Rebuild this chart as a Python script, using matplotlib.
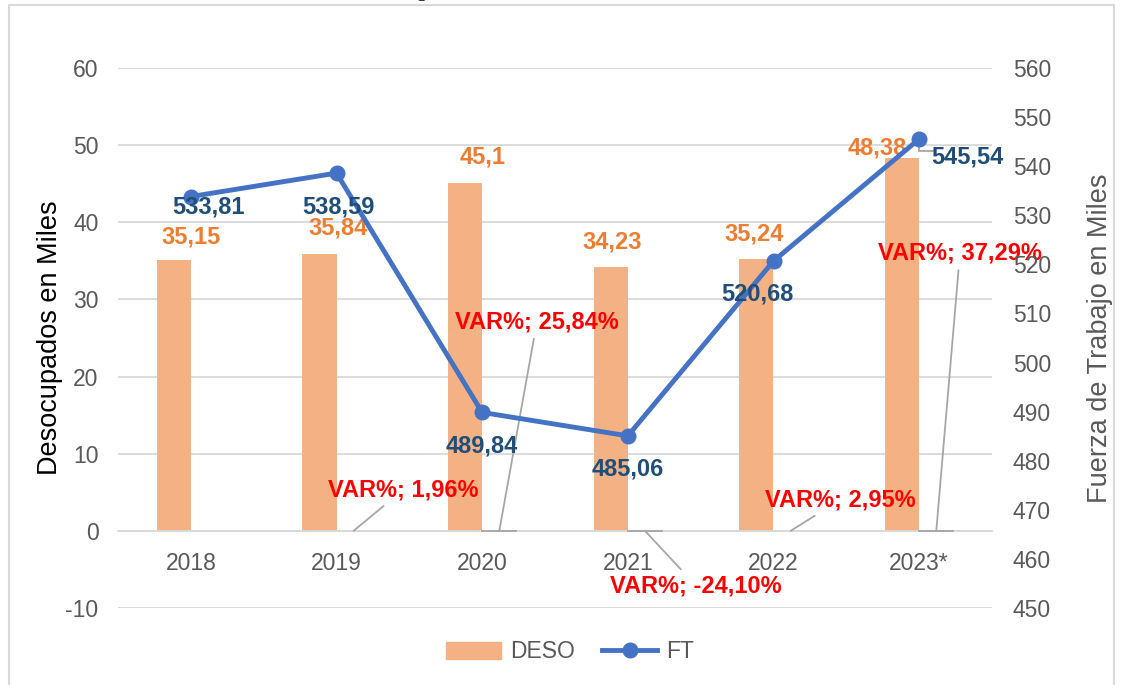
import matplotlib
matplotlib.use("Agg")
import matplotlib.pyplot as plt
import matplotlib.patches as mpatches
from matplotlib.lines import Line2D
import numpy as np

plt.rcParams['font.family'] = ['Liberation Sans', 'DejaVu Sans']
plt.rcParams['axes.unicode_minus'] = False

# Data
years = ["2018", "2019", "2020", "2021", "2022", "2023*"]
deso = [35.15, 35.84, 45.1, 34.23, 35.24, 48.38]
ft = [533.81, 538.59, 489.84, 485.06, 520.68, 545.54]
var_pct = [None, 1.96, 25.84, -24.10, 2.95, 37.29]

# Label placement (data coords of the label centers)
deso_lbl_pos = [(0.0, 38.1), (1.01, 39.3), (2.0, 48.4), (2.89, 37.5), (3.87, 38.5), (4.71, 49.6)]
ft_lbl_pos = [(0.12, 531.7), (1.01, 531.7), (2.0, 483.0), (3.0, 478.3), (3.89, 514.0), (5.33, 541.9)]
var_lbl_pos = [None, (1.456, 5.3), (2.376, 27.1), (3.468, -7.1), (4.456, 4.0), (5.28, 36.0)]
var_elbow = [False, False, True, True, False, True]

ORANGE_BAR = "#F4B183"
ORANGE_TXT = "#ED7D31"
BLUE_LINE = "#4472C4"
BLUE_TXT = "#1F4E79"
GRID = "#D9D9D9"
TXT = "#595959"
LEADER = "#A6A6A6"

fig = plt.figure(figsize=(11.23, 6.85), dpi=100)
ax = fig.add_axes([118 / 1123, 1 - 608 / 685, 874 / 1123, 540 / 685])
ax2 = ax.twinx()

x = np.arange(len(years))
w = 0.235

# Bars (DESO)
ax.bar(x - w, deso, width=w, align='edge', color=ORANGE_BAR, zorder=2)
ax.set_ylim(-10, 60)
ax.set_xlim(-0.5, len(years) - 0.5)
ax.set_yticks(np.arange(-10, 61, 10))
ax.yaxis.grid(True, color=GRID, linewidth=1.3, zorder=0)
ax.set_axisbelow(True)
for s in ['top', 'right', 'left']:
    ax.spines[s].set_visible(False)
ax.spines['bottom'].set_position(('data', 0))
ax.spines['bottom'].set_color(GRID)
ax.spines['bottom'].set_linewidth(1.3)
ax.set_xticks(x)
ax.set_xticklabels(years)
ax.tick_params(axis='x', length=0, pad=15, labelsize=16.5, labelcolor=TXT)
ax.tick_params(axis='y', length=0, pad=14, labelsize=16.5, labelcolor=TXT)
ax.set_ylabel("Desocupados en Miles", fontsize=19.5, color='black', labelpad=2)

# Line (FT)
ax2.plot(x, ft, color=BLUE_LINE, linewidth=3.5, marker='o', markersize=10.5, zorder=5)
ax2.set_ylim(450, 560)
ax2.set_yticks(np.arange(450, 561, 10))
for s in ['top', 'right', 'left', 'bottom']:
    ax2.spines[s].set_visible(False)
ax2.tick_params(axis='y', length=0, pad=15, labelsize=16.5, labelcolor=TXT)
ax2.set_ylabel("Fuerza de Trabajo en Miles", fontsize=19.5, color=TXT, labelpad=26)

# DESO labels
for v, (lx, ly) in zip(deso, deso_lbl_pos):
    ax.text(lx, ly, f"{v:g}".replace('.', ','), ha='center', va='center',
            fontsize=17, fontweight='bold', color=ORANGE_TXT, zorder=6)

# FT labels
for v, (lx, ly) in zip(ft, ft_lbl_pos):
    ax2.text(lx, ly, f"{v:.2f}".replace('.', ','), ha='center', va='center',
             fontsize=17, fontweight='bold', color=BLUE_TXT, zorder=6)
# small leader for last FT label
ax2.plot([x[-1], x[-1], x[-1] + 0.1], [ft[-1], ft[-1] - 2.5, ft[-1] - 2.5],
         color=LEADER, linewidth=1.3, zorder=4)

# VAR% labels with leader lines
for i, v in enumerate(var_pct):
    if v is None:
        continue
    lx, ly = var_lbl_pos[i]
    ax.annotate(f"VAR%; {v:.2f}%".replace('.', ','), xy=(i + w / 2, 0), xytext=(lx, ly),
                ha='center', va='center', fontsize=17, fontweight='bold', color='#FF0000',
                arrowprops=dict(arrowstyle='-', color=LEADER, lw=1.3, shrinkA=2, shrinkB=0),
                zorder=6)
    if var_elbow[i]:
        ax.plot([i, i + w], [0, 0], color=LEADER, linewidth=1.3, zorder=3)

# Legend
handles = [mpatches.Patch(color=ORANGE_BAR, label="DESO"),
           Line2D([0], [0], color=BLUE_LINE, linewidth=3.5, marker='o', markersize=10.5, label="FT")]
fig.legend(handles=handles, loc='center', bbox_to_anchor=(570 / 1123, 1 - 652 / 685), ncol=2,
           frameon=False, fontsize=16.5, labelcolor=TXT, handlelength=2.4, columnspacing=1.2,
           handletextpad=0.4)

# Chart border and clipped caption fragment
fig.patches.append(mpatches.Rectangle((9 / 1123, -0.02), 1105 / 1123, 1.02 - 5 / 685,
                                      transform=fig.transFigure, fill=False,
                                      edgecolor=GRID, linewidth=1.5))
fig.text(421 / 1123, 1 + 3 / 685, "g", family='Liberation Serif', fontsize=14,
         ha='center', va='baseline')

fig.savefig("out.png", dpi=100)
